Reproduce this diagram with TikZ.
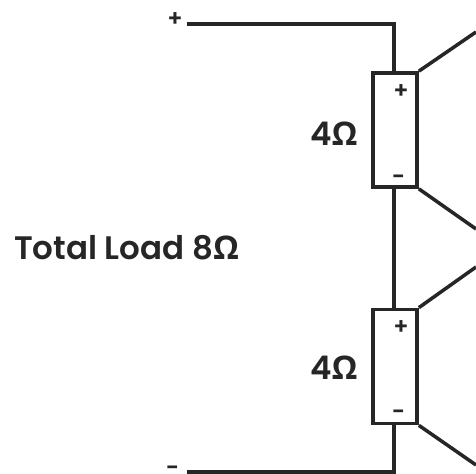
\documentclass[tikz,border=0pt]{standalone}
\usepackage{fontspec}
\setmainfont{Poppins}[BoldFont=Poppins SemiBold]
\newfontfamily\omegafont{Open Sans}
\usepackage{tikz}
\newcommand{\ohm}{{\omegafont\bfseries\symbol{"03A9}}}
\tikzset{
	wire/.style={draw=black!85, line width=2pt},
	load/.style={shape=rectangle, draw=black!85, line width=2.1pt, minimum width=0.88cm, minimum height=2.28cm, inner sep=0pt},
	value/.style={font=\bfseries\fontsize{18.5}{22}\selectfont, text=black!85, inner sep=0pt},
	sign/.style={font=\bfseries\fontsize{13}{15}\selectfont, text=black!85, inner sep=0pt},
}
\begin{document}
\begin{tikzpicture}
	\useasboundingbox (0,0) rectangle (9.52,9.46);
	\node[load] (top) at (7.90,6.86) {};
	\node[load] (bottom) at (7.90,2.13) {};
	\node[value] (val1) at (6.68,6.78) {4\ohm};
	\node[value] (val2) at (6.68,2.11) {4\ohm};
	\node[value] (total) at (2.53,4.50) {Total Load 8\ohm};
	\node[sign] (plus1) at (8.02,7.63) {+};
	\node[sign] (minus1) at (7.97,5.86) {-};
	\node[sign] (plus2) at (8.02,2.90) {+};
	\node[sign] (minus2) at (7.97,1.16) {-};
	\node[sign] (plusin) at (3.50,9.06) {+};
	\node[sign] (minusin) at (3.45,0.04) {-};
	\coordinate (a) at (3.74,8.98);
	\coordinate (b) at (7.88,8.98);
	\coordinate (c) at (3.74,0.02);
	\coordinate (d) at (7.88,0.02);
	\coordinate (e1) at (9.52,8.82);
	\coordinate (e2) at (9.52,4.88);
	\coordinate (e3) at (9.52,4.12);
	\coordinate (e4) at (9.52,0.16);

	\path [wire] (a) -- (b) -- (b |- top.north);
	\path [wire] (b |- top.south) -- (b |- bottom.north);
	\path [wire] (d |- bottom.south) -- (d) -- (c);
	\path [wire] (top.north east) -- (e1);
	\path [wire] (top.south east) -- (e2);
	\path [wire] (bottom.north east) -- (e3);
	\path [wire] (bottom.south east) -- (e4);
\end{tikzpicture}
\end{document}
